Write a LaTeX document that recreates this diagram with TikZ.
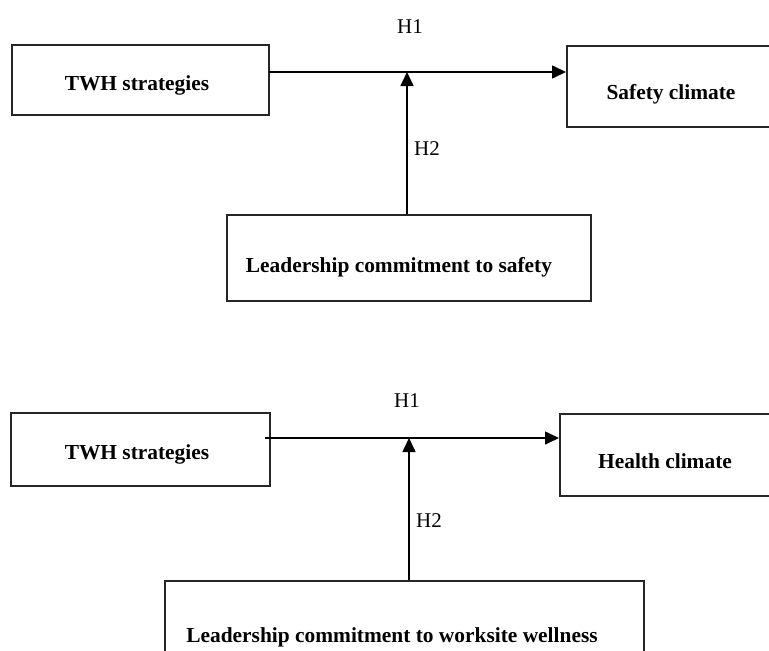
\documentclass[tikz,border=0pt]{standalone}
\usepackage{fontspec}
\setmainfont{Liberation Serif}
\usetikzlibrary{arrows.meta}
\begin{document}
\begin{tikzpicture}[x=1pt,y=-1pt,
  box/.style={draw=black!85,line width=1.8pt,rectangle,inner sep=0pt},
  btxt/.style={font=\fontsize{21.4}{24}\selectfont\bfseries,anchor=base,inner sep=0pt},
  htxt/.style={font=\fontsize{21}{24}\selectfont,anchor=base,inner sep=0pt},
  conn/.style={draw=black,line width=1.6pt},
  arr/.style={conn,-{Triangle[length=14pt,width=13pt]}}]
\useasboundingbox (0,0) rectangle (769,651);
\clip (0,0) rectangle (769,651);
% ---------- top diagram ----------
\node[box,minimum width=257pt,minimum height=70pt] (twhA) at (140.5,80) {};
\node[btxt] (twhAt) at (137,90) {TWH strategies};
\node[box,minimum width=230pt,minimum height=81pt,anchor=north west] (scA) at (566,45) {};
\node[btxt] (scAt) at (671,99) {Safety climate};
\node[box,minimum width=364pt,minimum height=86pt,anchor=north west] (lcA) at (226,214) {};
\node[btxt] (lcAt) at (399,272) {Leadership commitment to safety};
\node[htxt] (h1A) at (410,33) {H1};
\node[htxt] (h2A) at (427,155) {H2};
\coordinate (sA) at (269,72);
\coordinate (jA) at (407,72);
\draw[arr] (sA) -- (sA -| scA.west);
\draw[arr] (jA |- lcA.north) -- (jA);
% ---------- bottom diagram ----------
\node[box,minimum width=259pt,minimum height=73pt,anchor=north west] (twhB) at (10,412) {};
\node[btxt] (twhBt) at (137,459) {TWH strategies};
\node[box,minimum width=230pt,minimum height=82pt,anchor=north west] (hcB) at (559,413) {};
\node[btxt] (hcBt) at (665,468) {Health climate};
\node[box,minimum width=479pt,minimum height=100pt,anchor=north west] (lcB) at (164,580) {};
\node[btxt] (lcBt) at (392,642) {Leadership commitment to worksite wellness};
\node[htxt] (h1B) at (407,407) {H1};
\node[htxt] (h2B) at (429,527) {H2};
\coordinate (sB) at (265,438);
\coordinate (jB) at (409,438);
\draw[arr] (sB) -- (sB -| hcB.west);
\draw[arr] (jB |- lcB.north) -- (jB);
\end{tikzpicture}
\end{document}
